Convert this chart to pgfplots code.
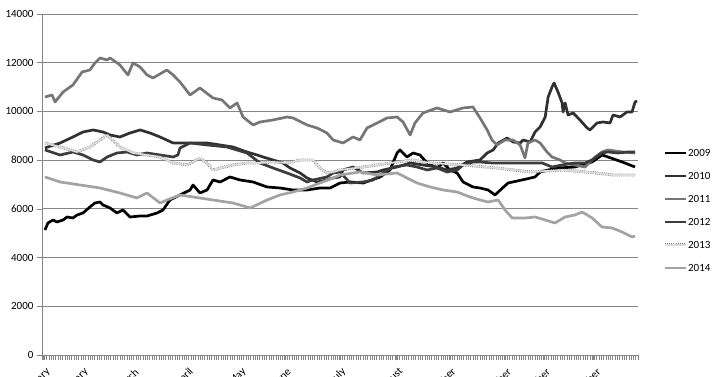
\documentclass[border=0pt]{standalone}
\usepackage{fontspec}
\setmainfont{Carlito}
\usepackage{pgfplots}
\pgfplotsset{compat=1.18}
\definecolor{gridgray}{HTML}{868686}
\definecolor{c2009}{HTML}{000000}
\definecolor{c2010}{HTML}{303030}
\definecolor{c2011}{HTML}{767676}
\definecolor{c2012}{HTML}{3C3C3C}
\definecolor{c2013}{HTML}{DCDCDC}
\definecolor{c2014}{HTML}{A3A3A3}
\begin{document}
\begin{tikzpicture}
\begin{axis}[
  at={(0,0)}, anchor=south west,
  width=596pt, height=341pt, scale only axis,
  xmin=0, xmax=260, ymin=0, ymax=14000,
  axis x line*=bottom, axis y line*=left,
  axis line style={-, gridgray, line width=0.9pt},
  ytick={0,2000,...,14000},
  ymajorgrids, major grid style={gridgray, line width=0.9pt},
  xtick={0.5,17,39,63,86,105.5,129.5,154.5,177.5,201.5,218.5,240.5},
  xticklabels={January,February,March,April,May,June,July,August,September,October,November,December},
  minor xtick={0,1,...,260},
  tick align=outside, major tick length=5pt, minor tick length=5pt,
  tick style={gridgray, line width=0.6pt},
  x tick label style={rotate=45, anchor=east, yshift=-11pt},
  ticklabel style={font=\fontsize{11}{13}\selectfont, text=black},
  /pgf/number format/assume math mode=true,
  /pgf/number format/1000 sep={},
  scaled y ticks=false,
  legend cell align=left,
  legend image code/.code={\draw[#1] (0pt,0pt) -- (21pt,0pt);},
  legend style={at={(1.042,0.424)}, anchor=west, draw=none, fill=none,
    inner sep=0pt, font=\fontsize{11}{13}\selectfont,
    nodes={inner sep=1pt, text height=8pt, text depth=0pt},
    row sep=13pt},
  every axis plot/.append style={line width=2.7pt, line join=round, mark=none},
]
% 2009
\addplot[c2009] coordinates {
(1.3,5133)(2.6,5420)(4.8,5543)(6.5,5461)(9.2,5543)(10.9,5666)(13.5,5625)(15.3,5748)
(17.9,5831)(20.9,6077)(23.1,6241)(25.3,6282)(26.6,6159)(29.7,6036)(32.7,5831)(35.3,5954)
(38.4,5666)(42.8,5707)(45.8,5707)(50.2,5831)(52.8,5954)(55.8,6364)(60.2,6570)(64.6,6775)
(65.9,6980)(68.9,6652)(72.0,6775)(74.6,7186)(77.7,7103)(82.0,7309)(86.4,7186)(92.1,7103)
(98.2,6898)(103.8,6857)(109.5,6775)(115.6,6775)(121.3,6857)(125.7,6857)(130.0,7062)
(134.4,7103)(140.1,7062)(147.5,7309)(151.8,7596)(154.9,8294)(156.2,8417)(159.2,8130)
(161.9,8294)(164.9,8212)(168.0,7884)(172.3,7678)(175.0,7884)(178.0,7596)(181.1,7473)
(183.7,7103)(188.0,6898)(191.1,6857)(194.6,6775)(197.6,6570)(203.3,7062)(209.4,7186)
(215.1,7309)(217.3,7514)(220.8,7596)(225.1,7678)(232.5,7719)(240.0,7925)(244.3,8212)
(246.9,8130)(253.1,7925)(258.7,7719)};
% 2010
\addplot[c2010] coordinates {
(1.3,8499)(7.9,8705)(13.5,8951)(17.9,9156)(22.3,9239)(26.6,9156)(29.7,9033)(34.0,8951)
(38.4,9115)(42.8,9239)(47.1,9115)(51.5,8951)(57.2,8705)(61.5,8705)(65.9,8705)(72.0,8705)
(77.7,8623)(83.3,8540)(89.4,8335)(93.8,8212)(96.4,8130)(100.8,8007)(105.1,7884)(108.2,7678)
(112.6,7473)(115.6,7268)(120.0,7103)(124.3,7186)(127.0,7268)(130.0,7309)(131.3,7596)
(135.7,7719)(140.1,7473)(146.2,7514)(148.8,7596)(154.9,7719)(160.6,7884)(166.2,7801)
(172.3,7719)(176.7,7596)(181.1,7678)(185.4,7925)(191.1,8007)(194.2,8294)(196.8,8417)
(199.0,8705)(202.9,8910)(205.5,8746)(208.6,8705)(209.9,8828)(212.9,8746)(215.1,9156)
(217.3,9362)(219.5,9772)(220.8,10593)(222.5,11004)(223.4,11168)(225.1,10799)(226.9,10347)
(227.3,9978)(228.2,10347)(229.5,9854)(231.7,9937)(234.7,9649)(237.8,9321)(239.1,9239)
(242.1,9526)(244.8,9567)(247.8,9526)(249.1,9854)(252.2,9772)(255.2,9978)(257.4,9978)
(258.7,10388)(259.6,10429)};
% 2011
\addplot[c2011] coordinates {
(1.3,10593)(4.4,10676)(5.7,10388)(9.2,10799)(13.5,11086)(17.5,11620)(20.9,11702)(23.1,11990)
(25.3,12195)(28.4,12113)(29.7,12195)(34.0,11907)(37.5,11497)(39.7,11990)(42.8,11825)
(45.8,11497)(48.4,11374)(54.5,11702)(57.2,11497)(60.2,11209)(64.6,10676)(68.9,10963)
(74.6,10552)(78.5,10470)(82.0,10142)(85.1,10347)(87.7,9772)(92.1,9444)(95.1,9567)
(100.8,9649)(106.9,9772)(109.5,9731)(115.6,9444)(120.0,9321)(124.3,9115)(127.0,8828)
(131.3,8705)(135.7,8951)(138.7,8828)(141.8,9321)(146.2,9526)(150.5,9731)(154.9,9772)
(157.5,9567)(160.6,9033)(162.7,9526)(166.2,9937)(172.3,10142)(178.0,9978)(183.7,10142)
(188.0,10183)(191.1,9731)(194.2,9239)(196.3,8828)(198.5,8623)(202.0,8828)(205.5,8828)
(208.6,8623)(210.7,8089)(212.0,8705)(215.1,8828)(217.3,8705)(220.3,8335)(222.5,8130)
(226.0,8007)(228.2,7884)(232.5,7801)(236.9,7719)(241.3,8130)(244.3,8335)(246.9,8417)
(253.1,8335)(258.7,8294)};
% 2012
\addplot[c2012] coordinates {
(1.3,8417)(7.9,8212)(13.5,8335)(17.9,8212)(22.3,8007)(25.3,7925)(28.4,8130)(32.7,8294)
(37.1,8335)(41.4,8212)(45.8,8294)(51.5,8212)(57.2,8130)(59.3,8212)(60.2,8499)(64.6,8705)
(72.0,8623)(80.7,8540)(89.4,8294)(95.1,7884)(100.8,7678)(106.9,7473)(112.6,7268)
(115.6,7103)(118.2,7186)(124.3,7309)(127.0,7473)(130.0,7514)(134.4,7062)(140.1,7103)
(144.4,7186)(148.8,7473)(153.1,7719)(159.2,7801)(163.6,7719)(168.0,7596)(172.3,7678)
(176.7,7514)(181.1,7596)(183.7,7801)(188.0,7925)(191.1,7925)(196.3,7884)(203.3,7884)
(218.2,7884)(222.5,7719)(226.9,7801)(232.5,7884)(236.9,7884)(240.0,8007)(244.3,8294)
(246.9,8335)(251.3,8294)(255.7,8335)(258.7,8335)};
% 2013
\addplot[c2013, line width=1.7pt, preaction={draw=black!55, line width=2.9pt, dash pattern=on 1pt off 1.2pt}] coordinates {
(1.3,8705)(7.9,8540)(15.3,8335)(20.9,8540)(25.3,8828)(28.4,9033)(34.0,8540)(39.7,8294)
(45.8,8212)(51.5,8130)(57.2,7884)(63.3,7801)(68.9,8089)(72.0,7884)(74.6,7596)(77.7,7678)
(83.3,7801)(89.4,7884)(95.1,7884)(100.8,7925)(106.9,7884)(112.6,8007)(118.2,8007)
(121.3,7678)(124.3,7473)(127.0,7514)(130.0,7596)(140.1,7719)(154.9,7925)(161.9,8007)
(169.3,7884)(183.7,7801)(198.5,7678)(212.9,7514)(227.3,7596)(242.1,7473)(249.1,7391)
(258.7,7391)};
% 2014
\addplot[c2014] coordinates {
(1.3,7309)(7.9,7103)(16.6,6980)(25.3,6857)(34.0,6652)(41.4,6446)(45.8,6652)(51.5,6241)
(54.5,6364)(60.2,6570)(65.9,6487)(74.6,6364)(83.3,6241)(90.8,6036)(98.2,6364)(103.8,6570)
(109.5,6693)(115.6,6857)(121.3,7062)(127.0,7268)(130.0,7391)(138.7,7514)(146.2,7391)
(154.9,7473)(159.2,7268)(163.6,7062)(169.3,6898)(175.0,6775)(181.1,6693)(186.7,6487)
(191.1,6364)(194.6,6282)(199.0,6364)(202.0,5954)(205.1,5625)(210.7,5625)(215.1,5666)
(219.5,5543)(223.8,5420)(228.2,5666)(232.5,5748)(235.6,5872)(240.0,5625)(244.3,5256)
(248.7,5215)(253.1,5050)(257.4,4845)(258.7,4886)};
\legend{2009,2010,2011,2012,2013,2014}
\end{axis}
\pgfresetboundingbox
\path[use as bounding box] (-42pt,-21pt) rectangle (678pt,355pt);
\end{tikzpicture}
\end{document}
